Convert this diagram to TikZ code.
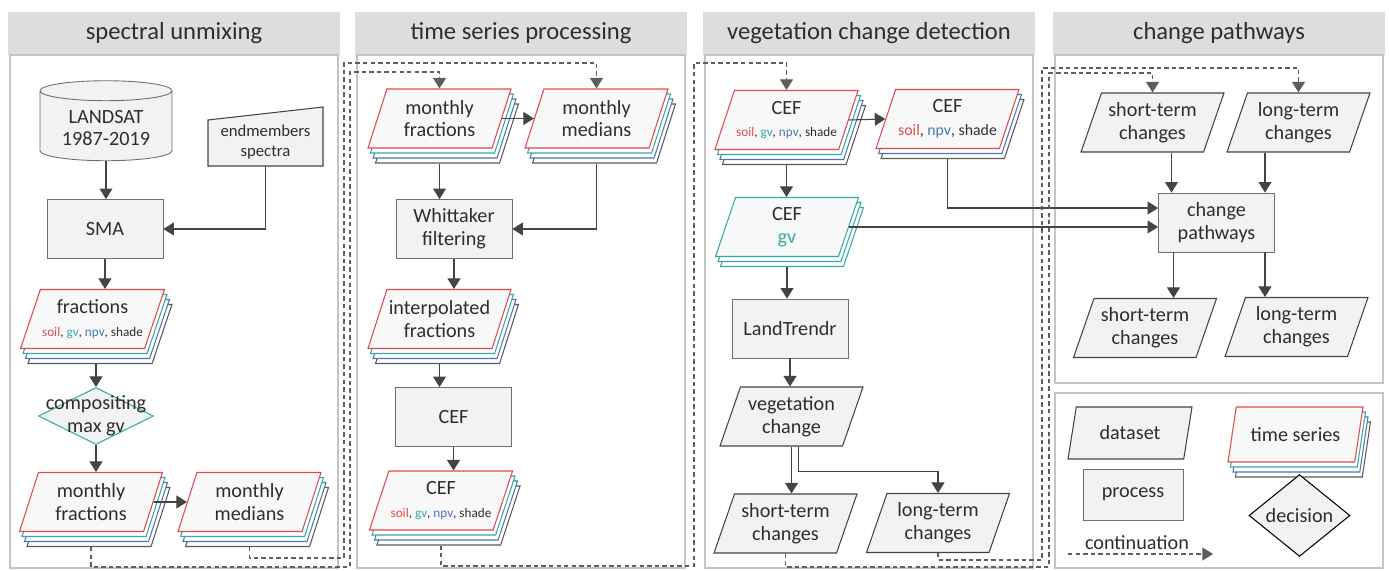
\documentclass[tikz,border=0pt]{standalone}
\usepackage{fontspec}
\setmainfont{Carlito}
\usetikzlibrary{shapes.geometric,arrows.meta}

\definecolor{tsred}{HTML}{DE4B4B}
\definecolor{tsteal}{HTML}{35AAA6}
\definecolor{tsblue}{HTML}{4A78B4}
\definecolor{tsgray}{HTML}{5A5A5A}
\definecolor{procgray}{HTML}{6E6E6E}
\definecolor{boxfill}{HTML}{F2F2F2}
\definecolor{tsfill}{HTML}{F8F8F8}
\definecolor{headfill}{HTML}{DDDDDD}
\definecolor{framegray}{HTML}{C4C4C4}
\definecolor{linegray}{HTML}{444444}
\definecolor{contgray}{HTML}{5E5E5E}
\definecolor{textgray}{HTML}{2E2E2E}

\newcommand{\nodefont}{\fontsize{11.5}{13}\selectfont}
\newcommand{\smallfont}{\fontsize{7.5}{9}\selectfont}
\newcommand{\allfractions}{{\smallfont\textcolor{tsred}{soil}, \textcolor{tsteal}{gv}, \textcolor{tsblue}{npv}, shade}}

\tikzset{
  header/.style={rectangle,fill=headfill,minimum width=6.64cm,minimum height=0.86cm,font=\fontsize{14}{16}\selectfont,text=textgray},
  panel/.style={draw=framegray,line width=0.8pt},
  procnode/.style={rectangle,draw=procgray,fill=boxfill,line width=0.5pt,minimum width=2.32cm,minimum height=1.18cm,align=center,font=\nodefont,text=textgray},
  datanode/.style={trapezium,trapezium left angle=65,trapezium right angle=115,trapezium stretches body,draw=linegray,fill=boxfill,line width=0.6pt,minimum width=2.86cm,minimum height=1.18cm,inner sep=1pt,align=center,font=\nodefont,text=textgray},
  tslayer/.style n args={3}{preaction={draw=#1,fill=white,line width=0.6pt,transform canvas={shift={(#2,#3)}}}},
  seriesnode/.style={datanode,draw=tsred,fill=tsfill,
    tslayer={tsgray}{0.15cm}{-0.3cm},tslayer={tsblue}{0.1cm}{-0.2cm},tslayer={tsteal}{0.05cm}{-0.1cm}},
  decnode/.style={diamond,draw=black,fill=boxfill,line width=0.6pt,minimum width=2.3cm,minimum height=1.14cm,inner sep=0pt,font=\nodefont,text=textgray},
  flow/.style={draw=linegray,line width=0.6pt,-{Triangle[length=6pt,width=7.4pt]}},
  cont/.style={flow,draw=contgray,dash pattern=on 2.5pt off 1.8pt},
  fromts/.style={shorten <=0.3cm},
}

\begin{document}
\begin{tikzpicture}[x=0.02cm,y=-0.02cm]
		\useasboundingbox (0,0) rectangle (1389,571);
		%panels
		\node[header] (hdunmix) at (174,33.5) {spectral unmixing};
		\node[header] (hdseries) at (521,33.5) {time series processing};
		\node[header] (hdveg) at (869,33.5) {vegetation change detection};
		\node[header] (hdpath) at (1219,33.5) {change pathways};
		\draw[panel] (10,55) rectangle (338,568);
		\draw[panel] (357,55) rectangle (685,568);
		\draw[panel] (705,55) rectangle (1033,568);
		\draw[panel] (1055,55) rectangle (1383,383);
		\draw[panel] (1055,393) rectangle (1383,568);
		%spectral unmixing
		\node[cylinder,shape border rotate=90,aspect=0.2,draw=procgray,fill=boxfill,line width=0.5pt,minimum width=2.64cm,minimum height=1.6cm,align=center,font=\nodefont,text=textgray] (landsat) at (106,128) {LANDSAT\\1987-2019};
		\draw[fill=boxfill,draw=linegray,line width=0.6pt] (208,120) -- (323,107) -- (323,166) -- (208,166) -- cycle;
		\node[font=\fontsize{9.5}{11.5}\selectfont,align=center,text=textgray,minimum width=2.3cm,minimum height=0.96cm] (endmem) at (265.5,142) {endmembers\\spectra};
		\node[procnode] (sma) at (105,229) {SMA};
		\node[seriesnode] (frac) at (92.5,319) {fractions\\\allfractions};
		\node[decnode,draw=tsteal,label={[align=center,font=\nodefont,text=textgray]center:compositing\\max gv}] (comp) at (96,416) {};
		\node[seriesnode] (mfrac1) at (91,502) {monthly\\fractions};
		\node[seriesnode] (mmed1) at (249.5,502) {monthly\\medians};
		%time series processing
		\node[seriesnode] (mfrac2) at (439.5,118.5) {monthly\\fractions};
		\node[seriesnode] (mmed2) at (596.5,118.5) {monthly\\medians};
		\node[procnode] (whitt) at (454,229) {Whittaker\\filtering};
		\node[seriesnode] (interp) at (439.5,319) {interpolated\\fractions};
		\node[procnode] (cefproc) at (453.5,417) {CEF};
		\node[seriesnode] (cef2) at (441,500.5) {CEF\\\allfractions};
		%vegetation change detection
		\node[seriesnode] (cef3) at (786.5,120) {CEF\\\allfractions};
		\node[datanode,draw=tsred,fill=tsfill,tslayer={tsgray}{0.1cm}{-0.2cm},tslayer={tsblue}{0.05cm}{-0.1cm}] (cefsns) at (947.5,119) {CEF\\{\fontsize{9}{11}\selectfont\textcolor{tsred}{soil}, \textcolor{tsblue}{npv}, shade}};
		\node[datanode,draw=tsteal,fill=tsfill,tslayer={tsteal}{0.1cm}{-0.2cm},tslayer={tsteal}{0.05cm}{-0.1cm}] (cefgv) at (787,227) {CEF\\\textcolor{tsteal}{gv}};
		\node[procnode] (landtr) at (790,328.5) {LandTrendr};
		\node[datanode] (vegch) at (791.5,416.5) {vegetation\\change};
		\node[datanode] (short3) at (785.5,523.5) {short-term\\changes};
		\node[datanode] (long3) at (938,523) {long-term\\changes};
		%change pathways
		\node[datanode] (short4a) at (1152.5,122.5) {short-term\\changes};
		\node[datanode] (long4a) at (1298.5,122.5) {long-term\\changes};
		\node[procnode] (pathw) at (1216.5,222.5) {change\\pathways};
		\node[datanode] (short4b) at (1145,328) {short-term\\changes};
		\node[datanode] (long4b) at (1296.5,327) {long-term\\changes};
		\coordinate (pwin1) at ([xshift=-0.9cm]pathw.north);
		\coordinate (pwin2) at ([xshift=0.97cm]pathw.north);
		\coordinate (pwout1) at ([xshift=-0.86cm]pathw.south);
		\coordinate (pwout2) at ([xshift=0.97cm]pathw.south);
		%legend
		\node[datanode,minimum width=2.48cm,minimum height=1.04cm] (legdata) at (1130,433) {dataset};
		\node[seriesnode,minimum width=2.7cm,minimum height=1.1cm] (legseries) at (1295.5,434.5) {time series};
		\node[procnode,minimum width=2cm,minimum height=1.02cm] (legproc) at (1133,494.5) {process};
		\node[decnode,minimum width=2.02cm] (legdec) at (1299.5,515.5) {decision};
		\node[font=\nodefont,text=textgray] (legcont) at (1137,543) {continuation};
		\coordinate (contstart) at (1068,554);
		\coordinate (contend) at (1213,554);
		%arrows
		\draw[flow] (landsat.south) -- (landsat.south |- sma.north);
		\draw[flow] (endmem.south) |- (sma.east);
		\draw[flow] (sma.south) -- (sma.south |- frac.north);
		\draw[flow,fromts] (frac.south -| comp.north) -- (comp.north);
		\draw[flow] (comp.south) -- (comp.south |- mfrac1.north);
		\draw[flow] (mfrac1.east) -- (mmed1.west);
		\draw[flow] (mfrac2.east) -- (mmed2.west);
		\draw[flow,fromts] (mfrac2.south) -- (mfrac2.south |- whitt.north);
		\draw[flow,fromts] (mmed2.south) |- (whitt.east);
		\draw[flow] (whitt.south) -- (whitt.south |- interp.north);
		\draw[flow,fromts] (interp.south) -- (interp.south |- cefproc.north);
		\draw[flow] (cefproc.south) -- (cefproc.south |- cef2.north);
		\draw[flow] (cef3.east) -- (cefsns.west);
		\draw[flow,fromts] (cef3.south) -- (cef3.south |- cefgv.north);
		\draw[flow,shorten <=0.2cm] (cefsns.south) |- ([yshift=0.29cm]pathw.west);
		\draw[flow] (cefgv.east) -- (cefgv.east -| pathw.west);
		\draw[flow,shorten <=0.2cm] (cefgv.south) -- (cefgv.south |- landtr.north);
		\draw[flow] (landtr.south) -- (landtr.south |- vegch.north);
		\draw[flow] (vegch.south) -- (vegch.south |- short3.north);
		\draw[flow] ([xshift=0.14cm]vegch.south) -- ++(0,25) -| (long3.north);
		\draw[flow] (pwin1 |- short4a.south) -- (pwin1);
		\draw[flow] (pwin2 |- long4a.south) -- (pwin2);
		\draw[flow] (pwout1) -- (pwout1 |- short4b.north);
		\draw[flow] (pwout2) -- (pwout2 |- long4b.north);
		%continuations
		\draw[cont,fromts] (mfrac1.south) |- (350,567) -- (350,72) -| (mfrac2.north);
		\draw[cont,fromts] (mmed1.south) |- (344,558) -- (344,63) -| (mmed2.north);
		\draw[cont,fromts] (cef2.south) |- (694,566) -- (694,63) -| (cef3.north);
		\draw[cont] (short3.south) |- (1049,567) -- (1049,73) -| (short4a.north);
		\draw[cont] (long3.south) |- (1042,560) -- (1042,68) -| (long4a.north);
		\draw[cont] (contstart) -- (contend);
\end{tikzpicture}
\end{document}
